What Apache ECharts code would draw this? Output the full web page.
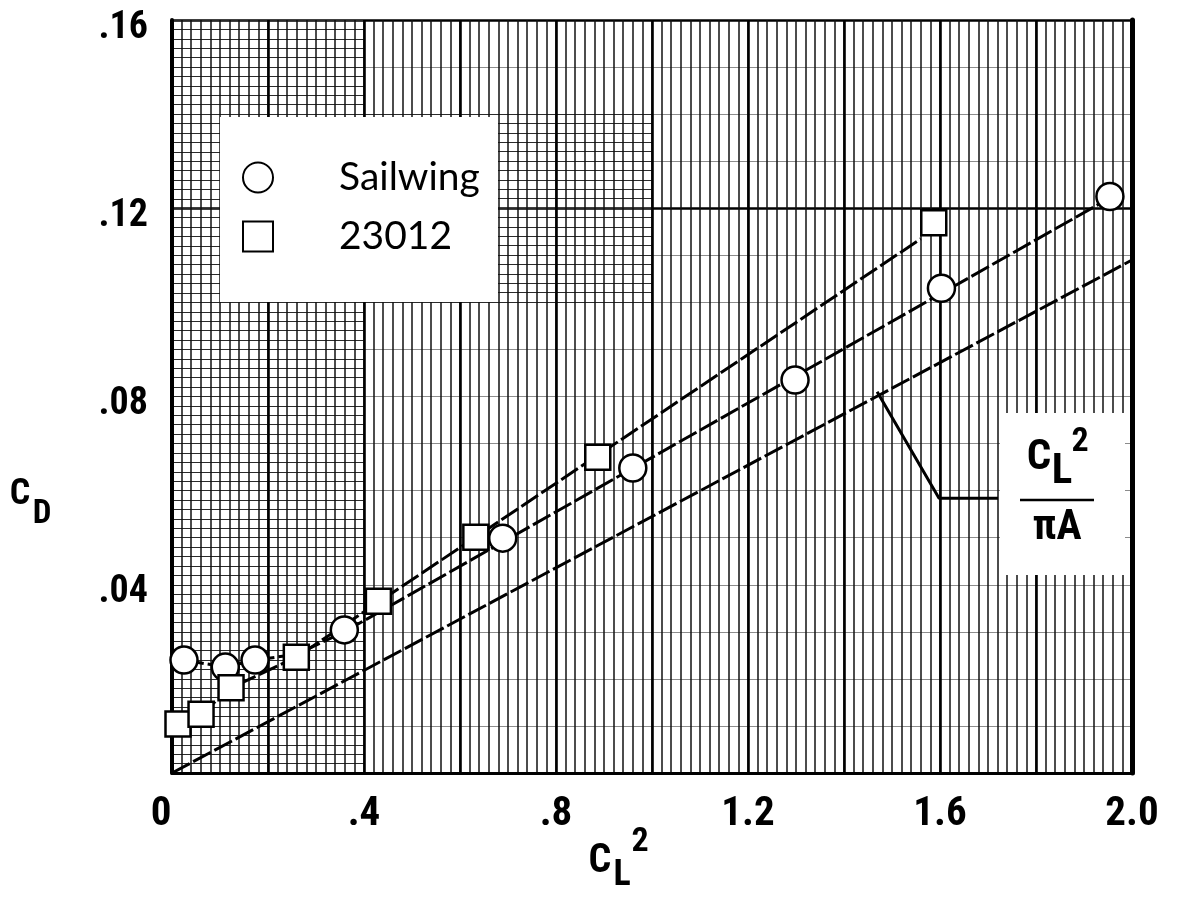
<!DOCTYPE html>
<html>
<head>
<meta charset="utf-8">
<title>Drag polar: Sailwing vs 23012</title>
<script src="https://cdn.jsdelivr.net/npm/echarts@6/dist/echarts.min.js"></script>
<style>
  html, body { margin: 0; padding: 0; background: #fff; }
  #chart { width: 1177px; height: 909px; }
</style>
</head>
<body>
<div id="chart"></div>
<script>
// Measured drag coefficient against lift coefficient squared
const sailwingCL2 = [0.025, 0.111, 0.173, 0.359, 0.689, 0.960, 1.298, 1.603, 1.954];
const sailwingCD  = [0.0240, 0.0225, 0.0240, 0.0304, 0.0499, 0.0648, 0.0835, 0.1030, 0.1225];

const airfoilCL2 = [0.0125, 0.0605, 0.123, 0.259, 0.430, 0.633, 0.887, 1.587];
const airfoilCD  = [0.0104, 0.0125, 0.0181, 0.0246, 0.0365, 0.0501, 0.0671, 0.1169];

// Faired curves through each set of points
const sailwingFairCL2 = [0.025, 0.111, 0.173, 0.259, 0.359, 1.954];
const sailwingFairCD  = [0.0240, 0.0225, 0.0240, 0.0252, 0.0300, 0.1222];

const airfoilFairCL2 = [0.0125, 0.0605, 0.123, 0.259, 1.560];
const airfoilFairCD  = [0.0104, 0.0125, 0.0181, 0.0246, 0.1135];

// Induced drag line CL^2 / (pi A)
const inducedCL2 = [0, 2.0];
const inducedCD  = [0, 0.109];

// Leader from the induced drag line to its label
const leaderCL2 = [1.469, 1.598, 1.721];
const leaderCD  = [0.0810, 0.0584, 0.0584];

// Tick labels
const xTickValues = [0, 0.4, 0.8, 1.2, 1.6, 2.0];
const xTickLabels = ['0', '.4', '.8', '1.2', '1.6', '2.0'];
const yTickValues = [0, 0.04, 0.08, 0.12, 0.16];
const yTickLabels = ['', '.04', '.08', '.12', '.16'];

const zip = (a, b) => a.map((v, i) => [v, b[i]]);

// Lettering: prefer a condensed face when an installed family offers one
function pickLettering() {
  const ctx = document.createElement('canvas').getContext('2d');
  const sample = '1.2 2.0 .08 CL';
  const families = ["Roboto", "'Open Sans'", "'Noto Sans'", "Inter", "'DejaVu Sans'", "'Liberation Sans'"];
  for (const fam of families) {
    ctx.font = 'bold 40px ' + fam;
    const base = ctx.measureText(sample).width;
    ctx.font = 'bold condensed 40px ' + fam;
    const narrow = ctx.measureText(sample).width;
    if (narrow < base * 0.92) return { family: fam, weight: 'bold condensed' };
  }
  return { family: 'sans-serif', weight: 'bold' };
}
const lettering = pickLettering();
const tickFont = lettering.family;
const tickWeight = lettering.weight;
const letter = size => tickWeight + ' ' + size + 'px ' + tickFont;
const legendFont = "Lato, 'Noto Sans', sans-serif";

function labelFor(values, labels, v) {
  for (let i = 0; i < values.length; i++) {
    if (Math.abs(values[i] - v) < 1e-6) return labels[i];
  }
  return '';
}

const hidden = { axisLine: { show: false, onZero: false }, axisTick: { show: false }, axisLabel: { show: false } };

const chart = echarts.init(document.getElementById('chart'), null, { renderer: 'canvas' });

const symbolStyle = { color: '#fff', borderColor: '#000', borderWidth: 2.5, opacity: 1 };

const option = {
  animation: false,
  backgroundColor: '#fff',
  grid: [
    { left: 172, right: 45, top: 20, bottom: 136 },
    // finely ruled strip along the CD axis
    { left: 172, width: 192, top: 20, bottom: 136 },
    // finely ruled patch right of the legend
    { left: 364, width: 288, top: 114, bottom: 607 }
  ],
  xAxis: [
    Object.assign({ gridIndex: 0, type: 'value', min: 0, max: 2, interval: 0.02,
      splitLine: { show: true, lineStyle: { color: '#111', width: 1.5 } } }, hidden),
    Object.assign({ gridIndex: 0, type: 'value', min: 0, max: 2, interval: 0.2,
      splitLine: { show: true, lineStyle: { color: '#000', width: 2.6 } } }, hidden),
    { gridIndex: 0, type: 'value', min: 0, max: 2, interval: 0.4, position: 'bottom',
      axisLine: { show: true, onZero: false, lineStyle: { color: '#000', width: 3 } },
      axisTick: { show: false },
      splitLine: { show: false },
      axisLabel: { margin: 21, fontSize: 41, fontWeight: tickWeight, color: '#000', fontFamily: tickFont,
        formatter: v => {
          const t = labelFor(xTickValues, xTickLabels, v);
          return v === 0 ? '{origin|' + t + '}' : t;
        },
        rich: { origin: { fontSize: 41, fontWeight: tickWeight, fontFamily: tickFont, color: '#000', padding: [0, 22, 0, 0] } } } },
    { gridIndex: 1, type: 'value', min: 0, max: 0.4, show: false },
    { gridIndex: 2, type: 'value', min: 0.4, max: 1.0, show: false }
  ],
  yAxis: [
    Object.assign({ gridIndex: 0, type: 'value', min: 0, max: 0.16, interval: 0.01,
      splitLine: { show: true, lineStyle: { color: '#8c8c8c', width: 1 } } }, hidden),
    { gridIndex: 0, type: 'value', min: 0, max: 0.16, interval: 0.04, position: 'left',
      axisLine: { show: true, onZero: false, lineStyle: { color: '#000', width: 4 } },
      axisTick: { show: false },
      splitLine: { show: false },
      axisLabel: { margin: 24, color: '#000',
        formatter: v => {
          const t = labelFor(yTickValues, yTickLabels, v);
          return t ? '{t|' + t + '}' : '';
        },
        rich: { t: { fontSize: 38, fontWeight: tickWeight, fontFamily: tickFont, color: '#000', padding: [16, 0, 0, 0] } } } },
    Object.assign({ gridIndex: 0, type: 'value', min: 0, max: 0.16, interval: 0.12,
      splitLine: { show: true, lineStyle: { color: '#000', width: 2.6 } } }, hidden),
    { gridIndex: 0, type: 'value', min: 0, max: 0.16, position: 'right',
      axisLine: { show: true, onZero: false, lineStyle: { color: '#000', width: 5 } },
      axisTick: { show: false }, axisLabel: { show: false }, splitLine: { show: false } },
    Object.assign({ gridIndex: 1, type: 'value', min: 0, max: 0.16, interval: 0.002,
      splitLine: { show: true, lineStyle: { color: '#2a2a2a', width: 1 } } }, hidden),
    Object.assign({ gridIndex: 2, type: 'value', min: 0.10, max: 0.14, interval: 0.002,
      splitLine: { show: true, lineStyle: { color: '#2a2a2a', width: 1 } } }, hidden)
  ],
  legend: {
    orient: 'vertical',
    left: 242, top: 158,
    padding: 0,
    itemWidth: 30, itemHeight: 30, itemGap: 20,
    selectedMode: false,
    data: ['Sailwing', '23012'],
    textStyle: { fontSize: 39, lineHeight: 30, color: '#000', fontFamily: legendFont, padding: [0, 0, 0, 61] },
    z: 6
  },
  series: [
    { name: 'induced', type: 'line', xAxisIndex: 2, yAxisIndex: 1, data: zip(inducedCL2, inducedCD),
      showSymbol: false, silent: true, z: 2,
      lineStyle: { color: '#000', width: 3, type: [20, 4] } },
    { name: 'leader', type: 'line', xAxisIndex: 2, yAxisIndex: 1, data: zip(leaderCL2, leaderCD),
      showSymbol: false, silent: true, z: 2,
      lineStyle: { color: '#000', width: 3 } },
    { name: 'sailwingFair', type: 'line', xAxisIndex: 2, yAxisIndex: 1, data: zip(sailwingFairCL2, sailwingFairCD),
      showSymbol: false, silent: true, z: 2,
      lineStyle: { color: '#000', width: 3, type: [20, 4] } },
    { name: 'airfoilFair', type: 'line', xAxisIndex: 2, yAxisIndex: 1, data: zip(airfoilFairCL2, airfoilFairCD),
      showSymbol: false, silent: true, z: 2,
      lineStyle: { color: '#000', width: 3, type: [20, 4] } },
    { name: 'Sailwing', type: 'scatter', xAxisIndex: 2, yAxisIndex: 1, data: zip(sailwingCL2, sailwingCD),
      symbol: 'circle', symbolSize: 27, z: 4, silent: true,
      itemStyle: symbolStyle },
    { name: '23012', type: 'scatter', xAxisIndex: 2, yAxisIndex: 1, data: zip(airfoilCL2, airfoilCD),
      symbol: 'rect', symbolSize: 25, z: 4, silent: true,
      itemStyle: symbolStyle }
  ],
  graphic: [
    // legend panel
    { type: 'rect', z: 1, shape: { x: 220, y: 117, width: 278, height: 185 }, style: { fill: '#fff' } },
    // label panel for the induced drag line
    { type: 'rect', z: 1, shape: { x: 1000, y: 413, width: 125, height: 162 }, style: { fill: '#fff' } },
    { type: 'text', z: 5, x: 1039, y: 458, style: { text: 'C', font: letter(43), fill: '#000', align: 'center', verticalAlign: 'middle' } },
    { type: 'text', z: 5, x: 1062, y: 472, style: { text: 'L', font: letter(43), fill: '#000', align: 'center', verticalAlign: 'middle' } },
    { type: 'text', z: 5, x: 1080, y: 442, style: { text: '2', font: letter(34), fill: '#000', align: 'center', verticalAlign: 'middle' } },
    { type: 'line', z: 5, shape: { x1: 1020, y1: 500, x2: 1094, y2: 500 }, style: { stroke: '#000', lineWidth: 2.5 } },
    { type: 'text', z: 5, x: 1057, y: 528, style: { text: 'πA', font: letter(42), fill: '#000', align: 'center', verticalAlign: 'middle' } },
    // axis titles
    { type: 'text', z: 5, x: 20, y: 495, style: { text: 'C', font: letter(36), fill: '#000', align: 'center', verticalAlign: 'middle' } },
    { type: 'text', z: 5, x: 42, y: 515, style: { text: 'D', font: letter(33), fill: '#000', align: 'center', verticalAlign: 'middle' } },
    { type: 'text', z: 5, x: 600, y: 862, style: { text: 'C', font: letter(40), fill: '#000', align: 'center', verticalAlign: 'middle' } },
    { type: 'text', z: 5, x: 622, y: 876, style: { text: 'L', font: letter(36), fill: '#000', align: 'center', verticalAlign: 'middle' } },
    { type: 'text', z: 5, x: 640, y: 842, style: { text: '2', font: letter(34), fill: '#000', align: 'center', verticalAlign: 'middle' } }
  ]
};

chart.setOption(option);
</script>
</body>
</html>
